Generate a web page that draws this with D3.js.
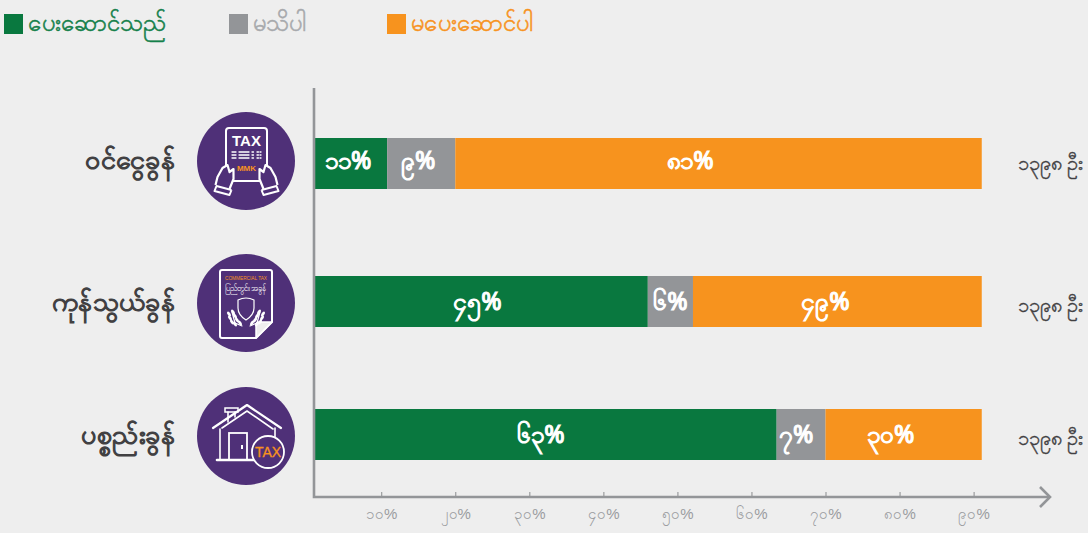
<!DOCTYPE html>
<html>
<head>
<meta charset="utf-8">
<script src="https://cdn.jsdelivr.net/npm/d3@7"></script>
<style>
  body { margin: 0; background: #eeeeee; }
  svg { display: block; font-family: "Noto Sans", sans-serif; }
</style>
</head>
<body>
<div id="chart"></div>
<script>
// values
var taxNames = ["ဝင်ငွေခွန်", "ကုန်သွယ်ခွန်", "ပစ္စည်းခွန်"];
var legendNames = ["ပေးဆောင်သည်", "မသိပါ", "မပေးဆောင်ပါ"];
var paidDrawn = [10.8, 46.0, 63.4];
var unknownDrawn = [9.2, 6.1, 6.6];
var notPaidDrawn = [71.1, 39.0, 21.1];
var paidLabels = ["၁၁%", "၄၅%", "၆၃%"];
var unknownLabels = ["၉%", "၆%", "၇%"];
var notPaidLabels = ["၈၁%", "၄၉%", "၃၀%"];
var respondents = ["၁၃၉၈ ဦး", "၁၃၉၈ ဦး", "၁၃၉၈ ဦး"];
var tickValues = [10, 20, 30, 40, 50, 60, 70, 80, 90];
var tickLabels = ["၁၀%", "၂၀%", "၃၀%", "၄၀%", "၅၀%", "၆၀%", "၇၀%", "၈၀%", "၉၀%"];

var colors = ["#09783f", "#939598", "#f7931e"];
var legendTextColors = ["#14804a", "#a7a9ac", "#f7931e"];
var purple = "#4f3078";
var dark = "#414042";

var svg = d3.select("#chart").append("svg").attr("width", 1088).attr("height", 533);

var x = d3.scaleLinear().domain([0, 90]).range([307.2, 973.6]);
var rowTop = d3.scaleOrdinal().domain(taxNames).range([138, 276, 409]);
var iconY = d3.scaleOrdinal().domain(taxNames).range([161, 303, 436]);
var barHeight = 51;
var axisY = 497, axisX = 314;

// bars
var rows = taxNames.map(function(name, i) {
  return { name: name, paid: paidDrawn[i], unknown: unknownDrawn[i], notPaid: notPaidDrawn[i] };
});
var keys = ["paid", "unknown", "notPaid"];
var stacked = d3.stack().keys(keys)(rows);

svg.append("clipPath").attr("id", "plot-clip")
  .append("rect").attr("x", axisX + 1).attr("y", 0).attr("width", 800).attr("height", 533);

var bars = svg.append("g").attr("clip-path", "url(#plot-clip)");
stacked.forEach(function(layer, k) {
  bars.append("g").selectAll("rect")
    .data(layer)
    .enter().append("rect")
    .attr("x", function(d) { return x(d[0]); })
    .attr("y", function(d) { return rowTop(d.data.name); })
    .attr("width", function(d) { return x(d[1]) - x(d[0]); })
    .attr("height", barHeight)
    .attr("fill", colors[k]);
});

// bar labels, placed a little off the middle like the reference
var labelSets = [paidLabels, unknownLabels, notPaidLabels];
var labelNudge = [[-3, -4, -5], [-3, 0, -5], [-28, -12, -13]];
var labelDrop = [31, 34, 34];
stacked.forEach(function(layer, k) {
  svg.append("g").selectAll("text")
    .data(layer)
    .enter().append("text")
    .attr("x", function(d, i) { return (Math.max(x(d[0]), axisX + 1) + x(d[1])) / 2 + labelNudge[k][i]; })
    .attr("y", function(d, i) { return rowTop(d.data.name) + labelDrop[i]; })
    .attr("text-anchor", "middle")
    .attr("fill", "#ffffff")
    .attr("stroke", "#ffffff")
    .attr("stroke-width", 1.2)
    .style("font-size", "24.5px")
    .text(function(d, i) { return labelSets[k][i]; });
});

// axes
var axis = d3.axisBottom(x)
  .tickValues(tickValues)
  .tickSize(0)
  .tickPadding(0)
  .tickFormat(function(d, i) { return tickLabels[i]; });
var axisG = svg.append("g").attr("transform", "translate(0," + axisY + ")").call(axis);
axisG.select(".domain").remove();
axisG.selectAll(".tick line")
  .attr("y1", -5).attr("y2", 0)
  .attr("stroke", "#8a8c8e").attr("stroke-width", 1);
axisG.selectAll(".tick text")
  .attr("y", 22)
  .attr("dy", 0)
  .attr("fill", "#9a9c9f")
  .style("font-size", "15px");

var axisColor = "#939598";
svg.append("path")
  .attr("d", d3.line()([[axisX, 88], [axisX, axisY], [1049, axisY]]))
  .attr("fill", "none").attr("stroke", axisColor).attr("stroke-width", 2.6);
svg.append("path")
  .attr("d", d3.line()([[1040, 487], [1050, axisY], [1040, 507]]))
  .attr("fill", "none").attr("stroke", axisColor).attr("stroke-width", 2.6);

// row names
svg.append("g").selectAll("text")
  .data(taxNames)
  .enter().append("text")
  .attr("x", 175.5)
  .attr("y", function(d) { return iconY(d) + 8; })
  .attr("text-anchor", "end")
  .attr("fill", dark)
  .attr("stroke", dark)
  .attr("stroke-width", 1.2)
  .style("font-size", "27px")
  .text(function(d) { return d; });

// respondents
svg.append("g").selectAll("text")
  .data(respondents)
  .enter().append("text")
  .attr("x", 1083.5)
  .attr("y", function(d, i) { return iconY(taxNames[i]) + 9; })
  .attr("text-anchor", "end")
  .attr("fill", dark)
  .attr("stroke", dark)
  .attr("stroke-width", 0.4)
  .style("font-size", "20px")
  .text(function(d) { return d; });

// legend
var legendX = d3.scaleOrdinal().domain(legendNames).range([4, 229, 387]);
var legend = svg.append("g").selectAll("g")
  .data(legendNames)
  .enter().append("g")
  .attr("transform", function(d) { return "translate(" + legendX(d) + ",14)"; });
legend.append("rect").attr("width", 19).attr("height", 20)
  .attr("fill", function(d, i) { return colors[i]; });
legend.append("text").attr("x", 24).attr("y", 16.5)
  .attr("fill", function(d, i) { return legendTextColors[i]; })
  .attr("stroke", function(d, i) { return legendTextColors[i]; })
  .attr("stroke-width", 0.5)
  .style("font-size", "23.9px")
  .text(function(d) { return d; });

// icons
var icons = svg.append("g").selectAll("g")
  .data(taxNames)
  .enter().append("g")
  .attr("transform", function(d) { return "translate(246," + iconY(d) + ")"; });
icons.append("circle").attr("r", 49).attr("fill", purple);

function line(g, pts, w) {
  return g.append("path").attr("d", d3.line()(pts))
    .attr("fill", "none").attr("stroke", "#fff").attr("stroke-width", w || 1.8)
    .attr("stroke-linejoin", "round").attr("stroke-linecap", "round");
}

function incomeIcon(g) {
  g.append("rect").attr("x", -20).attr("y", -33).attr("width", 41).attr("height", 53).attr("rx", 3)
    .attr("fill", "none").attr("stroke", "#fff").attr("stroke-width", 2);
  g.append("text").attr("x", 0.5).attr("y", -15).attr("text-anchor", "middle").attr("fill", "#fff")
    .style("font-size", "15px").style("font-weight", "bold").style("font-family", "Liberation Sans").text("TAX");
  [-9, -6, -3].forEach(function(yy) {
    line(g, [[-14, yy], [-10, yy]], 1.3);
    line(g, [[-7, yy], [3, yy]], 1.3);
    line(g, [[6, yy], [9, yy]], 1.3).attr("stroke-dasharray", "1.5 1.5");
    line(g, [[11, yy], [15, yy]], 1.3).attr("stroke-dasharray", "1.5 1.5");
  });
  g.append("text").attr("x", 0.5).attr("y", 10).attr("text-anchor", "middle").attr("fill", "#f7931e")
    .style("font-size", "8px").style("font-weight", "bold").style("font-family", "Liberation Sans").text("MMK");
  [-1, 1].forEach(function(s) {
    var h = g.append("g").attr("transform", "translate(0.5,0) scale(" + s + ",1)");
    h.append("path")
      .attr("d", d3.line()([[17, 28], [13, 18], [13, 8], [17, 11], [19, 4], [24, 7], [29, 16], [31, 24]]))
      .attr("fill", purple).attr("stroke", "#fff").attr("stroke-width", 2.2).attr("stroke-linejoin", "round");
    h.append("path")
      .attr("d", d3.line()([[15, 29], [30, 25], [32, 30], [17, 34], [15, 29]]))
      .attr("fill", purple).attr("stroke", "#fff").attr("stroke-width", 2).attr("stroke-linejoin", "round");
  });
}

function commercialIcon(g) {
  g.append("path")
    .attr("d", "M-24,-33 H24 Q26,-33 26,-31 V19 L10,35 H-24 Q-26,35 -26,33 V-31 Q-26,-33 -24,-33 Z")
    .attr("fill", "none").attr("stroke", "#fff").attr("stroke-width", 2).attr("stroke-linejoin", "round");
  g.append("path")
    .attr("d", "M26,19 H13 Q10,19 10,22 V35 Z")
    .attr("fill", "#eeeeee").attr("stroke", "#fff").attr("stroke-width", 1.5).attr("stroke-linejoin", "round");
  g.append("text").attr("x", -21).attr("y", -23).attr("fill", "#f7931e")
    .attr("textLength", 42).attr("lengthAdjust", "spacingAndGlyphs")
    .style("font-size", "5px").style("font-family", "Liberation Sans").text("COMMERCIAL TAX");
  g.append("text").attr("x", -21).attr("y", -12).attr("fill", "#fff")
    .attr("textLength", 42).attr("lengthAdjust", "spacingAndGlyphs")
    .style("font-size", "8px").text("ပြည်တွင်းအခွန်");
  g.append("path")
    .attr("d", "M-8,-3 Q0,-7 8,-3 V5 Q8,12 0,17 Q-8,12 -8,5 Z")
    .attr("fill", "none").attr("stroke", "#fff").attr("stroke-width", 1.2);
  [-1, 1].forEach(function(s) {
    var h = g.append("g").attr("transform", "scale(" + s + ",1)");
    line(h, [[4, 23], [11, 20], [14, 9]], 1.2);
    [[6, 20], [9, 17], [11, 13], [13, 9], [14, 19], [16, 15], [17, 11], [11, 21]].forEach(function(p) {
      h.append("ellipse").attr("cx", p[0]).attr("cy", p[1]).attr("rx", 1.5).attr("ry", 2.8)
        .attr("transform", "rotate(35 " + p[0] + " " + p[1] + ")")
        .attr("fill", "#fff");
    });
  });
}

function propertyIcon(g) {
  line(g, [[-33, -8], [1, -31], [35, -8]], 2.2);
  line(g, [[-24, -8], [1, -25], [27, -7]], 1.6);
  line(g, [[-18, -24], [-18, -14]], 1.6);
  line(g, [[-11, -24], [-11, -19]], 1.6);
  g.append("rect").attr("x", -21).attr("y", -28).attr("width", 13).attr("height", 4)
    .attr("fill", "none").attr("stroke", "#fff").attr("stroke-width", 1.5);
  line(g, [[-26, -7], [-26, 24]], 1.6);
  line(g, [[29, -8], [29, 5]], 1.6);
  g.append("rect").attr("x", -17).attr("y", -3).attr("width", 18).attr("height", 27)
    .attr("fill", "none").attr("stroke", "#fff").attr("stroke-width", 1.8);
  g.append("rect").attr("x", -5).attr("y", 9).attr("width", 2).attr("height", 4).attr("fill", "#fff");
  line(g, [[-29, 24], [9, 24]], 2.6);
  g.append("circle").attr("cx", 22).attr("cy", 16).attr("r", 16)
    .attr("fill", purple).attr("stroke", "#fff").attr("stroke-width", 1.8);
  g.append("text").attr("x", 22).attr("y", 21).attr("text-anchor", "middle").attr("fill", "#f7931e")
    .attr("stroke", "#f7931e").attr("stroke-width", 0.3)
    .style("font-size", "14px").style("font-family", "Liberation Sans").text("TAX");
}

incomeIcon(d3.select(icons.nodes()[0]));
commercialIcon(d3.select(icons.nodes()[1]));
propertyIcon(d3.select(icons.nodes()[2]));
</script>
</body>
</html>
